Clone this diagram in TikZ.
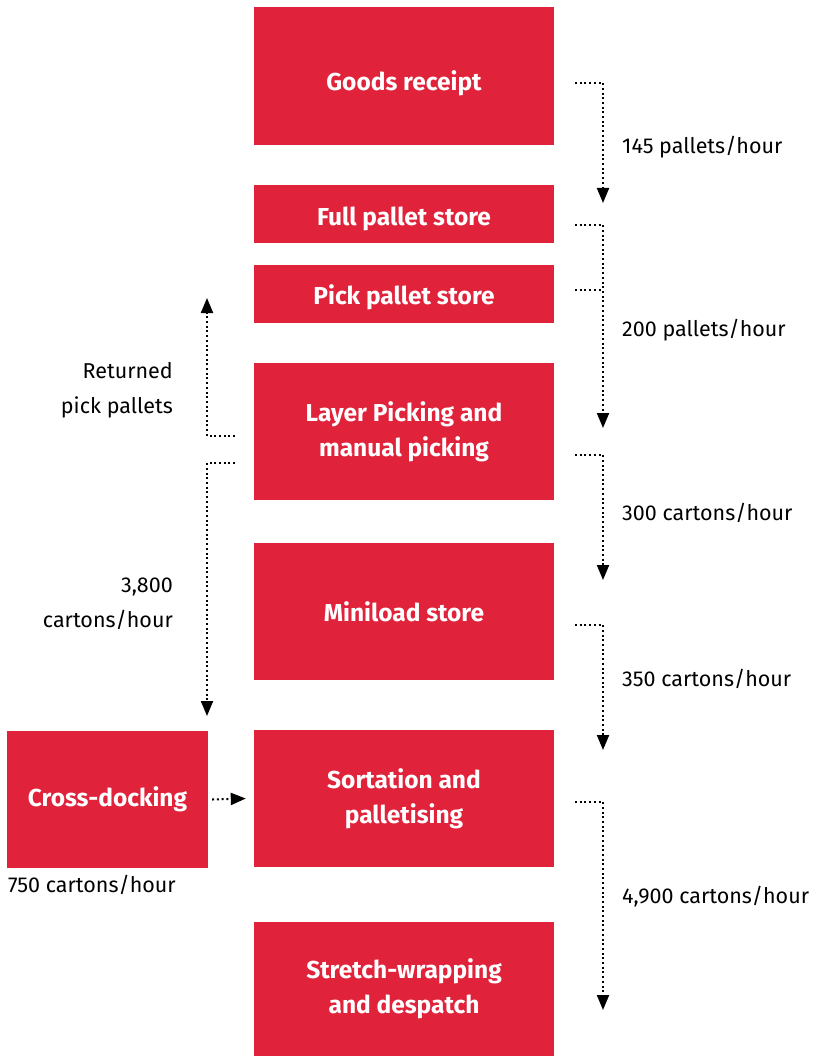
\documentclass[tikz,border=0pt]{standalone}
\usepackage{fontspec}
\setmainfont{Fira Sans}
\usetikzlibrary{arrows.meta}
\definecolor{flowRed}{HTML}{E0223B}
\newcommand{\dropText}[2]{\raisebox{-#1}[\height][\depth]{#2}}

\begin{document}
\begin{tikzpicture}[x=1pt, y=-1pt,
    every node/.style={inner sep=0pt, font=\fontsize{21.5}{35}\selectfont},
    stage/.style={fill=flowRed, text=white, align=center,
        minimum width=300pt, font=\bfseries\fontsize{24.5}{35}\selectfont},
    flow/.style={line width=2pt, dash pattern=on 2pt off 2.7pt,
        -{Triangle[length=15pt, width=12pt]}},
    tap/.style={line width=2pt, dash pattern=on 2pt off 2.7pt}]
        \useasboundingbox (0,0) rectangle (824,1056);

        % Stationen
        \node[stage, minimum height=138pt] (goods) at (404,76) {\dropText{7pt}{Goods receipt}};
        \node[stage, minimum height=58pt] (full) at (404,214) {\dropText{5pt}{Full pallet store}};
        \node[stage, minimum height=58pt] (pick) at (404,294) {\dropText{3pt}{Pick pallet store}};
        \node[stage, minimum height=137pt] (layer) at (404,431.5) {Layer Picking and\\manual picking};
        \node[stage, minimum height=137pt] (mini) at (404,611.5) {Miniload store};
        \node[stage, minimum height=137pt] (sort) at (404,798.5) {Sortation and\\palletising};
        \node[stage, minimum height=134pt] (wrap) at (404,989) {Stretch-wrapping\\and despatch};
        \node[stage, minimum width=201pt, minimum height=137pt] (cross) at (107.5,799.5) {Cross-docking};

        % Rechte Seite
        \coordinate (goodsOut) at (575,83);
        \coordinate (goodsTip) at (603,203);
        \coordinate (fullOut) at (575,225);
        \coordinate (pickOut) at (575,290);
        \coordinate (pickJoin) at (603,290);
        \coordinate (storeTip) at (603,428);
        \coordinate (layerOut) at (575,455);
        \coordinate (layerTip) at (603,580);
        \coordinate (miniOut) at (575,625);
        \coordinate (miniTip) at (603,750);
        \coordinate (sortOut) at (575,802);
        \coordinate (sortTip) at (603,1010);

        \draw[flow] (goodsOut) -| (goodsTip);
        \draw[flow] (fullOut) -| (storeTip);
        \draw[tap] (pickOut) -- (pickJoin);
        \draw[flow] (layerOut) -| (layerTip);
        \draw[flow] (miniOut) -| (miniTip);
        \draw[flow] (sortOut) -| (sortTip);

        \node[anchor=west] (rateGoods) at (622,147) {145 pallets/hour};
        \node[anchor=west] (rateStore) at (622,330) {200 pallets/hour};
        \node[anchor=west] (rateLayer) at (622,513) {300 cartons/hour};
        \node[anchor=west] (rateMini) at (622,679) {350 cartons/hour};
        \node[anchor=west] (rateSort) at (622,897) {4,900 cartons/hour};

        % Linke Seite
        \coordinate (returnOut) at (235,436);
        \coordinate (returnTip) at (207,298);
        \coordinate (crossOut) at (235,463);
        \coordinate (crossTip) at (207,716);

        \draw[flow] (returnOut) -| (returnTip);
        \draw[flow] (crossOut) -| (crossTip);
        \draw[flow] ([xshift=4pt]cross.east) -- ([xshift=-8pt]sort.west);

        \node[anchor=east, align=right] (rateReturn) at (173,390.5) {Returned\\pick pallets};
        \node[anchor=east, align=right] (rateCarton) at (173,603.5) {3,800\\cartons/hour};
        \node[anchor=west] (rateCross) at (8,885) {750 cartons/hour};
    \end{tikzpicture}
\end{document}
